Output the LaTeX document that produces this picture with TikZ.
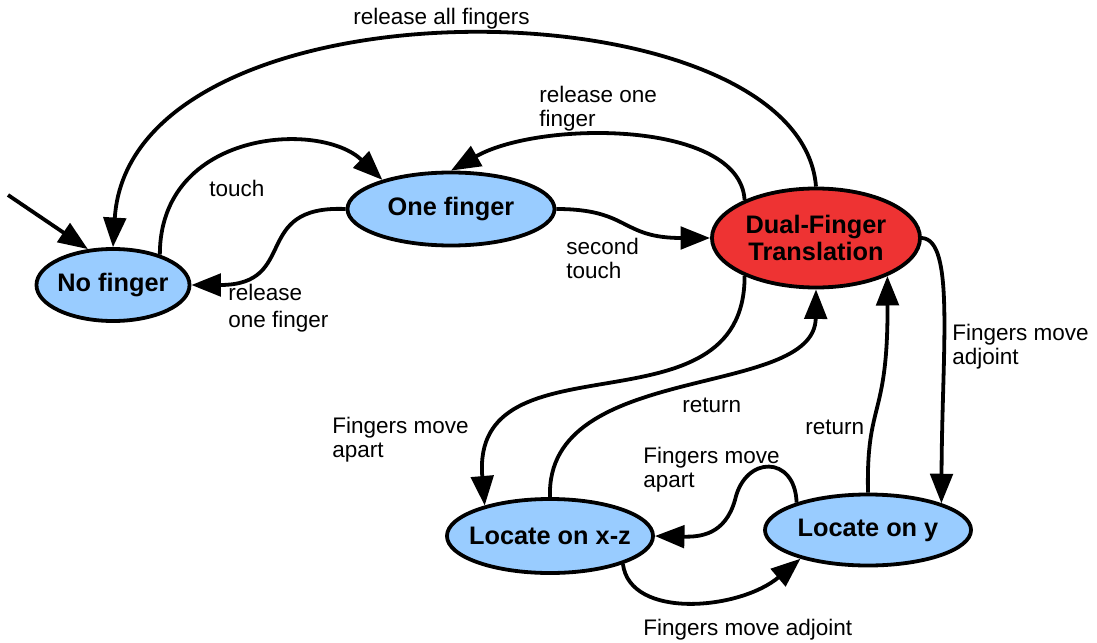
\documentclass[tikz,border=0pt]{standalone}
\usepackage{fontspec}
\setmainfont{Liberation Sans}
\usetikzlibrary{shapes.geometric,arrows.meta}
\definecolor{stateblue}{RGB}{153,204,255}
\definecolor{statered}{RGB}{238,51,51}
\tikzset{
  state/.style={ellipse, draw, line width=2.7pt, fill=stateblue, inner xsep=-12pt, inner ysep=0pt,
    font=\fontsize{18}{19}\selectfont\bfseries, align=center},
  trans/.style={line width=2.7pt, -{Triangle[length=21pt,width=16pt]}},
  lbl/.style={inner sep=0pt, font=\fontsize{16}{17}\selectfont, align=left}
}
\begin{document}
\begin{tikzpicture}[x=0.025cm, y=-0.025cm]
    \useasboundingbox (0,0) rectangle (1097,643);
    % states
    \node[state, minimum width=3.825cm, minimum height=1.8cm] (nf) at (113,285) {No finger};
    \node[state, minimum width=5.175cm, minimum height=1.825cm] (of) at (451,209) {One finger};
    \node[state, fill=statered, minimum width=5.2cm, minimum height=2.475cm] (df) at (816,238) {Dual-Finger\\Translation};
    \node[state, minimum width=5.15cm, minimum height=1.85cm] (xz) at (550,536) {Locate on x-z};
    \node[state, minimum width=5.15cm, minimum height=1.775cm] (ly) at (868,530) {Locate on y};
    % transitions
    \coordinate (start) at (8,195);
    \draw[trans] (start) -- (nf.125);
    \draw[trans] (df.north) .. controls (800,-20) and (130,-30) .. (nf.90);
    \draw[trans] (nf.33) .. controls (160,130) and (320,120) .. (of.157);
    \draw[trans] (of.west) .. controls (250,205) and (300,285) .. (nf.east);
    \draw[trans] (of.east) .. controls (630,209) and (620,238) .. (df.west);
    \draw[trans] (df.152) .. controls (740,120) and (540,120) .. (of.north);
    \draw[trans] (df.208) .. controls (745,440) and (470,330) .. (xz.155);
    \draw[trans] (xz.north) .. controls (545,360) and (815,400) .. (df.south);
    \draw[trans] (df.east) .. controls (955,240) and (942,350) .. (ly.20);
    \draw[trans] (ly.north) .. controls (866,400) and (888,420) .. (df.332);
    \draw[trans] (ly.159) .. controls (795,455) and (745,455) .. (735,500)
        .. controls (725,535) and (700,537) .. (xz.east);
    \draw[trans] (xz.339) .. controls (630,620) and (740,610) .. (ly.203);
    % labels
    \node[lbl, anchor=base west] (l-all) at (353,25) {release all fingers};
    \node[lbl, anchor=base west] (l-touch) at (209,196) {touch};
    \node[lbl, anchor=north west, font=\fontsize{16}{19}\selectfont] (l-relnf) at (228,284) {release\\one finger};
    \node[lbl, anchor=north west] (l-relof) at (539,86) {release one\\finger};
    \node[lbl, anchor=north west] (l-second) at (566,238) {second\\touch};
    \node[lbl, anchor=north west] (l-apartxz) at (332,417) {Fingers move\\apart};
    \node[lbl, anchor=base west] (l-retxz) at (682,412) {return};
    \node[lbl, anchor=north west] (l-adjy) at (952,324) {Fingers move\\adjoint};
    \node[lbl, anchor=base west] (l-rety) at (805,434) {return};
    \node[lbl, anchor=north west] (l-apartmid) at (643,447) {Fingers move\\apart};
    \node[lbl, anchor=base west] (l-adjbot) at (643,635) {Fingers move adjoint};
\end{tikzpicture}
\end{document}
